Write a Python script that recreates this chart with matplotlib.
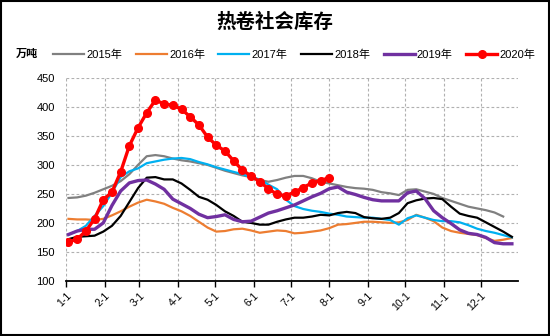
import numpy as np
import matplotlib
matplotlib.use('Agg')
import matplotlib.pyplot as plt
from matplotlib.patches import Rectangle

plt.rcParams['font.family'] = ['Liberation Sans', 'Noto Sans CJK SC', 'DejaVu Sans']

# weekly readings, first week ~ Jan 3
start_day = 2
month_days = [0, 31, 59, 90, 120, 151, 181, 212, 243, 273, 304, 334]
month_labels = ['1-1', '2-1', '3-1', '4-1', '5-1', '6-1', '7-1', '8-1', '9-1', '10-1', '11-1', '12-1']

y2015 = [243, 244, 247, 252, 258, 264, 272, 284, 300, 315, 317, 315, 311, 308, 306, 303,
         300, 295, 290, 286, 282, 279, 274, 271, 274, 278, 281, 281, 277, 271, 268, 265,
         262, 260, 259, 257, 253, 251, 248, 257, 258, 254, 250, 243, 238, 233, 228, 225,
         222, 218, 211]
y2016 = [207, 206, 206, 205, 207, 213, 220, 228, 235, 240, 237, 233, 226, 220, 212, 202,
         192, 185, 186, 189, 190, 187, 183, 185, 187, 186, 182, 183, 185, 187, 191, 197,
         198, 200, 202, 202, 201, 200, 201, 205, 214, 209, 203, 192, 186, 183, 181, 179,
         174, 169, 171, 174]
y2017 = [180, 186, 195, 212, 229, 252, 279, 289, 294, 303, 306, 309, 311, 312, 310, 305,
         301, 296, 292, 288, 284, 279, 275, 266, 258, 240, 229, 224, 221, 219, 216, 214,
         211, 210, 209, 209, 207, 205, 197, 208, 213, 209, 205, 203, 203, 201, 196, 190,
         186, 183, 179, 175]
y2018 = [172, 176, 177, 178, 185, 195, 212, 236, 260, 278, 279, 275, 275, 268, 257, 245,
         240, 231, 220, 212, 202, 200, 197, 197, 202, 206, 209, 209, 211, 214, 213, 217,
         219, 217, 210, 208, 207, 209, 217, 234, 239, 242, 243, 241, 228, 216, 212, 209,
         201, 193, 185, 176]
y2019 = [180, 186, 189, 189, 200, 230, 255, 269, 273, 274, 267, 258, 241, 233, 225, 215,
         209, 211, 214, 206, 202, 203, 210, 217, 221, 226, 231, 238, 245, 251, 259, 262,
         253, 249, 244, 240, 238, 238, 238, 252, 255, 242, 221, 209, 199, 188, 182, 180,
         175, 166, 164, 164]
y2020 = [167, 172, 186, 207, 240, 253, 288, 333, 364, 390, 412, 405, 403, 396, 383, 369,
         348, 334, 324, 307, 291, 281, 271, 259, 249, 247, 253, 261, 269, 273, 278]

series = [
    ('2015年', y2015, '#808080', 1.6),
    ('2016年', y2016, '#ED7D31', 1.6),
    ('2017年', y2017, '#00B0F0', 1.6),
    ('2018年', y2018, '#000000', 1.6),
    ('2019年', y2019, '#7030A0', 2.4),
]

fig = plt.figure(figsize=(5.5, 3.36), dpi=100)
ax = fig.add_axes([0.12, 0.164, 0.822, 0.604])

for name, vals, col, lw in series:
    d = start_day + 7 * np.arange(len(vals))
    ax.plot(d, vals, color=col, lw=lw, label=name)
d = start_day + 7 * np.arange(len(y2020))
ax.plot(d, y2020, color='#FF0000', lw=2.4, marker='o', ms=5.5, label='2020年')

ax.set_xlim(0, 364)
ax.set_ylim(100, 450)
ax.set_yticks(range(100, 451, 50))
ax.set_xticks(month_days)
ax.set_xticklabels(month_labels, rotation=45, ha='right', rotation_mode='anchor', fontsize=7.5)
ax.tick_params(axis='y', length=0, labelsize=8, pad=8)
ax.tick_params(axis='x', length=4, width=1, direction='out', pad=3)
ax.grid(True, ls=(0, (2.5, 2)), color='#b0b0b0', lw=0.8)
for s in ['top', 'right', 'left']:
    ax.spines[s].set_visible(False)
ax.spines['bottom'].set_linewidth(1.3)

fig.text(0.5, 0.935, '热卷社会库存', ha='center', va='center', fontsize=14,
         fontweight='bold', family=['Noto Sans CJK SC'])
fig.text(0.028, 0.842, '万吨', ha='left', va='center', fontsize=8,
         fontweight='bold', family=['Noto Sans CJK SC'])
fig.legend(loc='center', bbox_to_anchor=(0.535, 0.838), ncol=6, frameon=False,
           handlelength=2.8, columnspacing=1.2, handletextpad=0.2, numpoints=1,
           prop={'family': ['Liberation Sans', 'Noto Sans CJK SC'], 'size': 8})

fig.patches.append(Rectangle((0.002, 0.003), 0.996, 0.994, transform=fig.transFigure,
                             fill=False, lw=1.5, ec='black'))

fig.savefig('out.png', dpi=100)
